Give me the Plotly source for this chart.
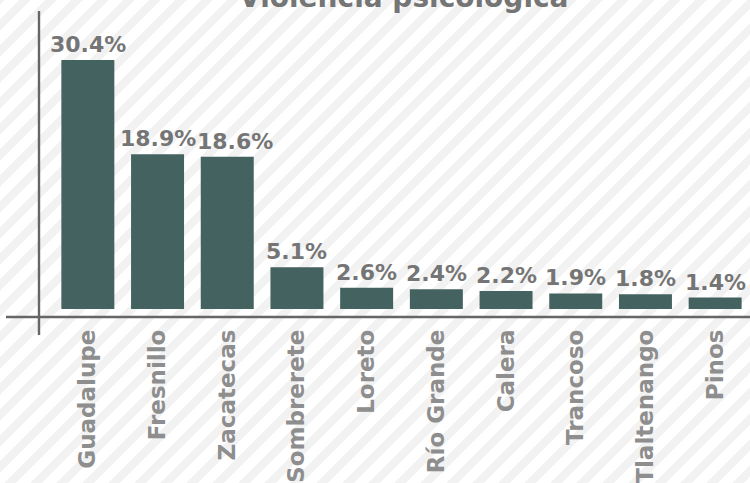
import plotly.graph_objects as go

categories = ["Guadalupe", "Fresnillo", "Zacatecas", "Sombrerete", "Loreto",
              "Río Grande", "Calera", "Trancoso", "Tlaltenango", "Pinos"]
values = [30.4, 18.9, 18.6, 5.1, 2.6, 2.4, 2.2, 1.9, 1.8, 1.4]
value_labels = [f"{v:.1f}%" for v in values]
title_text = "Violencia psicológica"

W, H = 750, 483
L, R, T, B = 53, 0, 20, 174
PW, PH = W - L - R, H - T - B


def xp(px):
    return (px - L) / PW


def yp(py):
    return (H - B - py) / PH


BAR = "#44625f"
TXT = "#757575"
LBL = "#8e8e8e"
AX = "#666666"

shapes = []
# diagonal stripe background
for x0 in range(-520, 780, 26):
    shapes.append(dict(type="line", xref="paper", yref="paper",
                       x0=xp(x0), y0=yp(H + 10), x1=xp(x0 + H + 20), y1=yp(-10),
                       line=dict(color="#f2f2f2", width=8), layer="below"))
# axis lines
shapes.append(dict(type="line", xref="paper", yref="paper",
                   x0=xp(39), y0=yp(11), x1=xp(39), y1=yp(335),
                   line=dict(color=AX, width=2.4), layer="above"))
shapes.append(dict(type="line", xref="paper", yref="paper",
                   x0=xp(6), y0=yp(317), x1=xp(752), y1=yp(317),
                   line=dict(color=AX, width=2.4), layer="above"))

fig = go.Figure(go.Bar(
    x=categories, y=values,
    marker=dict(color=BAR, line=dict(width=0)),
    hoverinfo="skip",
))

# value labels (the Zacatecas one sits a little to the right, as in the source)
label_shift = {"Zacatecas": 8}
annotations = []
for c, v, t in zip(categories, values, value_labels):
    annotations.append(dict(x=c, y=v, text=t, xref="x", yref="y",
                            xanchor="center", yanchor="bottom", yshift=1,
                            xshift=label_shift.get(c, 0), showarrow=False,
                            font=dict(family="DejaVu Sans", size=22, color=TXT,
                                      weight="bold")))
annotations.append(dict(text=title_text, xref="paper", yref="paper",
                        x=xp(404), y=yp(16), xanchor="center", yanchor="bottom",
                        showarrow=False,
                        font=dict(family="DejaVu Sans", size=28, color=TXT, weight="bold")))

fig.update_layout(
    width=W, height=H,
    margin=dict(l=L, r=R, t=T, b=B, autoexpand=False),
    paper_bgcolor="white", plot_bgcolor="rgba(0,0,0,0)",
    bargap=0.24, showlegend=False,
    shapes=shapes,
    annotations=annotations,
)
fig.update_xaxes(range=[-0.5, 9.5], showline=False, showgrid=False, zeroline=False,
                 tickangle=-90, ticks="", ticklabelstandoff=15,
                 tickfont=dict(family="DejaVu Sans", size=23, color=LBL, weight="bold"))
fig.update_yaxes(range=[0, 289 / 8.19], showline=False, showgrid=False, zeroline=False,
                 showticklabels=False, ticks="")

fig.write_html("out.html", config={"displayModeBar": False},
               post_script="document.body.style.margin='0';document.body.style.padding='0';")
